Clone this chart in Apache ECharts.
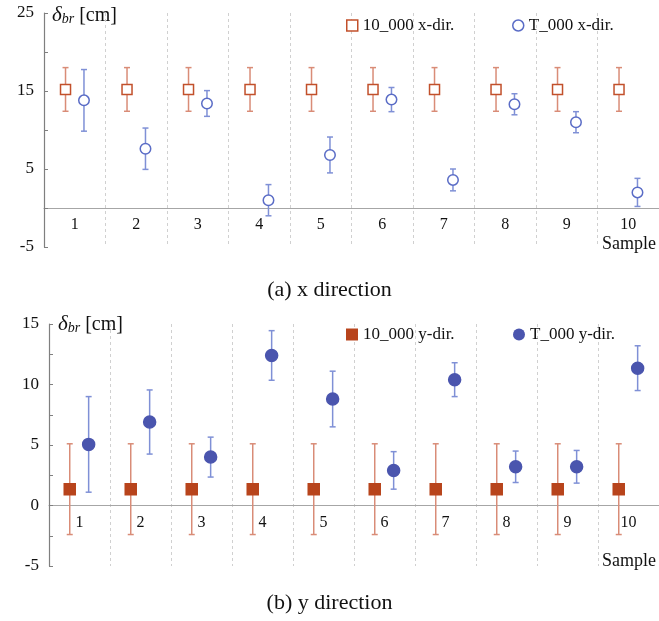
<!DOCTYPE html>
<html>
<head>
<meta charset="utf-8">
<script src="https://cdn.jsdelivr.net/npm/echarts@6/dist/echarts.min.js"></script>
<style>html,body{margin:0;padding:0;background:#fff;}#c{width:659px;height:621px;}</style>
</head>
<body>
<div id="c"></div>
<script>
// ---- data ----
const categories = ['1','2','3','4','5','6','7','8','9','10'];
const x10Val = [15.2,15.2,15.2,15.2,15.2,15.2,15.2,15.2,15.2,15.2];
const x10Err = [2.8,2.8,2.8,2.8,2.8,2.8,2.8,2.8,2.8,2.8];
const xTVal  = [13.8,7.6,13.4,1.0,6.8,13.9,3.6,13.3,11.0,2.0];
const xTErr  = [3.95,2.65,1.65,2.0,2.3,1.55,1.4,1.35,1.35,1.8];
const y10Val = [1.35,1.35,1.35,1.35,1.35,1.35,1.35,1.35,1.35,1.35];
const y10Err = [3.75,3.75,3.75,3.75,3.75,3.75,3.75,3.75,3.75,3.75];
const yTVal  = [5.05,6.9,4.0,12.4,8.8,2.9,10.4,3.2,3.2,11.35];
const yTErr  = [3.95,2.65,1.65,2.05,2.3,1.55,1.4,1.3,1.35,1.85];
const topTickLabels = [25,15,5,-5];
const botTickLabels = [15,10,5,0,-5];
const seriesNames = ['10_000 x-dir.','T_000 x-dir.','10_000 y-dir.','T_000 y-dir.'];

const FONT = 'Liberation Serif';
const RED = '#C2502B', RED_BAR = '#D98C77';
const BLUE = '#5A6CC6', BLUE_BAR = '#7F90D6';
const RED_F = '#B8441C', BLUE_F = '#4A55AE';

function mk(vals, errs){ return vals.map((v,i)=>[i, v, errs[i]]); }

function errRender(off, shape, stroke, fill, barColor, size){
  return function(params, api){
    const i = api.value(0), v = api.value(1), e = api.value(2);
    const c = api.coord([i, v]);
    const bw = api.size([1, 0])[0];
    const x = c[0] + off * bw;
    const yt = api.coord([i, v + e])[1];
    const yb = api.coord([i, v - e])[1];
    const cap = 3;
    const ls = {stroke: barColor, lineWidth: 1.5};
    const children = [
      {type:'line', shape:{x1:x, y1:yt, x2:x, y2:yb}, style:ls},
      {type:'line', shape:{x1:x-cap, y1:yt, x2:x+cap, y2:yt}, style:ls},
      {type:'line', shape:{x1:x-cap, y1:yb, x2:x+cap, y2:yb}, style:ls}
    ];
    if (shape === 'rect') {
      children.push({type:'rect', shape:{x:x-size/2, y:c[1]-size/2, width:size, height:size},
        style:{fill:fill, stroke:stroke, lineWidth:1.5}});
    } else {
      children.push({type:'circle', shape:{cx:x, cy:c[1], r:size/2},
        style:{fill:fill, stroke:stroke, lineWidth:1.5}});
    }
    return {type:'group', children};
  };
}

const chart = echarts.init(document.getElementById('c'), null, {renderer:'canvas'});

const topH = 234, botH = 242;
const xAxisBase = {
  type:'category', data: categories, boundaryGap:true, position:'bottom',
  axisLine:{onZero:false, lineStyle:{color:'#A6A6A6', width:1.2}},
  axisTick:{show:false},
  axisLabel:{fontFamily:FONT, fontSize:16, color:'#111', margin:9, interval:0},
  splitLine:{show:true, interval:0, lineStyle:{type:[3,3], color:'#D0D0D0', width:1}}
};
const yAxisBase = {
  type:'value',
  axisLine:{show:true, lineStyle:{color:'#7F7F7F', width:1.2}},
  axisTick:{show:true, inside:true, length:4, lineStyle:{color:'#7F7F7F'}},
  splitLine:{show:false},
  axisLabel:{fontFamily:FONT, fontSize:17, color:'#111', margin:10}
};

const option = {
  animation:false,
  backgroundColor:'#fff',
  grid:[
    {left:44, top:13, width:617, height:topH},
    {left:49, top:324, width:616, height:botH}
  ],
  xAxis:[
    Object.assign({}, xAxisBase, {gridIndex:0, offset:-(topH*5/30)}),
    Object.assign({}, xAxisBase, {gridIndex:1, offset:-(botH*5/20)})
  ],
  yAxis:[
    Object.assign({}, yAxisBase, {gridIndex:0, min:-5, max:25, interval:5,
      axisLabel:Object.assign({}, yAxisBase.axisLabel, {formatter:v=>topTickLabels.includes(v)?String(v):''})}),
    Object.assign({}, yAxisBase, {gridIndex:1, min:-5, max:15, interval:2.5,
      axisLabel:Object.assign({}, yAxisBase.axisLabel, {formatter:v=>botTickLabels.includes(v)?String(v):''})})
  ],
  legend:[
    {left:341, top:12, itemWidth:11, itemHeight:11, itemGap:6, textStyle:{fontFamily:FONT, fontSize:17, color:'#111'},
     data:[{name:seriesNames[0], icon:'rect', itemStyle:{color:'#fff', borderColor:RED, borderWidth:1.5}}]},
    {left:507, top:12, itemWidth:11, itemHeight:11, itemGap:6, textStyle:{fontFamily:FONT, fontSize:17, color:'#111'},
     data:[{name:seriesNames[1], icon:'circle', itemStyle:{color:'#fff', borderColor:BLUE, borderWidth:1.5}}]},
    {left:341, top:321, itemWidth:12, itemHeight:12, itemGap:6, textStyle:{fontFamily:FONT, fontSize:17, color:'#111'},
     data:[{name:seriesNames[2], icon:'rect', itemStyle:{color:RED_F}}]},
    {left:508, top:321, itemWidth:12, itemHeight:12, itemGap:6, textStyle:{fontFamily:FONT, fontSize:17, color:'#111'},
     data:[{name:seriesNames[3], icon:'circle', itemStyle:{color:BLUE_F}}]}
  ],
  series:[
    {name:seriesNames[0], type:'custom', xAxisIndex:0, yAxisIndex:0, data:mk(x10Val,x10Err),
     encode:{x:0,y:1}, renderItem:errRender(-0.15,'rect',RED,'#fff',RED_BAR,10)},
    {name:seriesNames[1], type:'custom', xAxisIndex:0, yAxisIndex:0, data:mk(xTVal,xTErr),
     encode:{x:0,y:1}, renderItem:errRender(0.15,'circle',BLUE,'#fff',BLUE_BAR,10.5)},
    {name:seriesNames[2], type:'custom', xAxisIndex:1, yAxisIndex:1, data:mk(y10Val,y10Err),
     encode:{x:0,y:1}, renderItem:errRender(-0.16,'rect',RED_F,RED_F,RED_BAR,11)},
    {name:seriesNames[3], type:'custom', xAxisIndex:1, yAxisIndex:1, data:mk(yTVal,yTErr),
     encode:{x:0,y:1}, renderItem:errRender(0.15,'circle',BLUE_F,BLUE_F,BLUE_BAR,12)}
  ],
  graphic:[
    {type:'text', left:52, top:5, style:{text:'{d|δ}{s|br}{n| [cm]}', rich:{
      d:{fontFamily:FONT, fontStyle:'italic', fontSize:21, fill:'#111'},
      s:{fontFamily:FONT, fontStyle:'italic', fontSize:14, fill:'#111', padding:[8,0,0,0]},
      n:{fontFamily:FONT, fontSize:20, fill:'#111'}}}},
    {type:'text', left:58, top:314, style:{text:'{d|δ}{s|br}{n| [cm]}', rich:{
      d:{fontFamily:FONT, fontStyle:'italic', fontSize:21, fill:'#111'},
      s:{fontFamily:FONT, fontStyle:'italic', fontSize:14, fill:'#111', padding:[8,0,0,0]},
      n:{fontFamily:FONT, fontSize:20, fill:'#111'}}}},
    {type:'text', right:3, top:235, style:{text:'Sample', fontFamily:FONT, fontSize:18, fill:'#111'}},
    {type:'text', right:3, top:552, style:{text:'Sample', fontFamily:FONT, fontSize:18, fill:'#111'}},
    {type:'text', left:'center', top:279, style:{text:'(a) x direction', fontFamily:FONT, fontSize:22, fill:'#111'}},
    {type:'text', left:'center', top:592, style:{text:'(b) y direction', fontFamily:FONT, fontSize:22, fill:'#111'}}
  ]
};
chart.setOption(option);
</script>
</body>
</html>
